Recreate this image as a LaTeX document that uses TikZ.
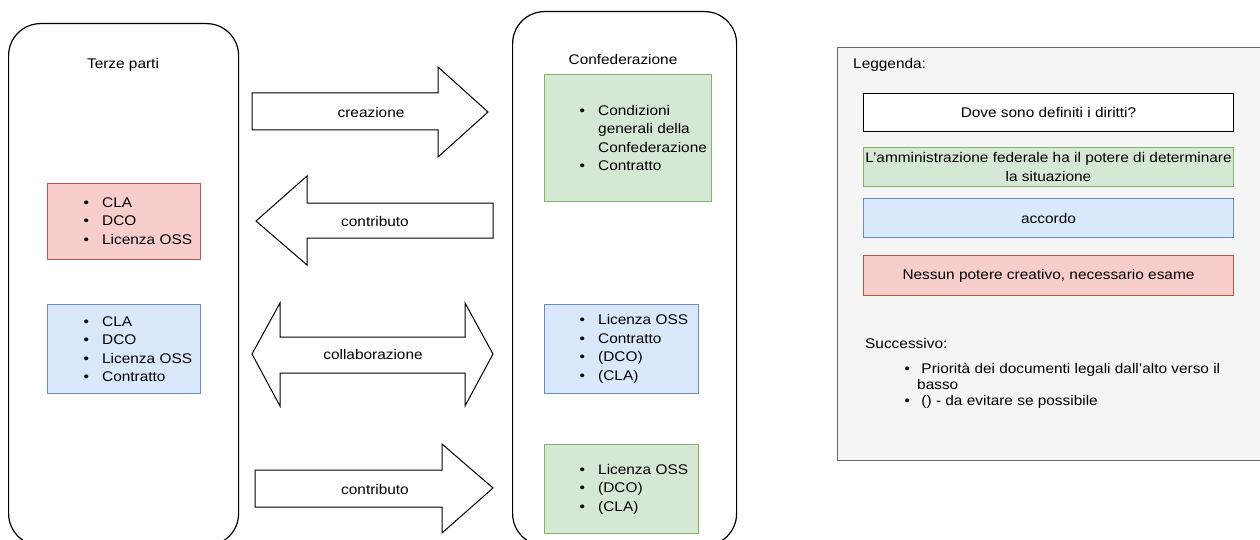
\documentclass[tikz,border=0pt]{standalone}
\usepackage{fontspec}
\setmainfont{Liberation Sans}[FakeStretch=1.1]
\usepackage{tikz}

\definecolor{verdeF}{HTML}{D5E8D4}
\definecolor{verdeB}{HTML}{82B366}
\definecolor{bluF}{HTML}{DAE8FC}
\definecolor{bluB}{HTML}{6C8EBF}
\definecolor{rossoF}{HTML}{F8CECC}
\definecolor{rossoB}{HTML}{B85450}
\definecolor{grigioF}{HTML}{F5F5F5}
\definecolor{grigioB}{HTML}{666666}

\newcommand{\voce}[1][16pt]{\makebox[0pt]{\textbullet}\hspace{#1}}
\newcommand{\segue}[1][16pt]{\hspace*{#1}}

\tikzset{
	gruppo/.style={draw=black, line width=1.2pt, rounded corners=32pt, anchor=north west},
	riquadro/.style={line width=1pt, anchor=north west, inner sep=0pt},
	verde/.style={riquadro, draw=verdeB, fill=verdeF},
	blu/.style={riquadro, draw=bluB, fill=bluF},
	rosso/.style={riquadro, draw=rossoB, fill=rossoF},
	bianco/.style={riquadro, draw=black, fill=white},
	lista/.style={align=left, anchor=west, inner sep=0pt},
	freccia/.style={draw=black, line width=1pt, fill=white, line join=miter}
}

\begin{document}
\begin{tikzpicture}[x=1pt, y=-1pt, font=\fontsize{14}{18.5}\selectfont]
\useasboundingbox (0,0) rectangle (1260,540);
\clip (0,0) rectangle (1260,540);

% terze parti
\node[gruppo, minimum width=230pt, minimum height=522pt] (terze) at (8,23) {};
\node (terzeTit) at (123,65) {Terze parti};
\node[rosso, minimum width=153pt, minimum height=76pt] (terzeR) at (47,183) {};
\node[lista] (terzeRL) at (86,221) {\voce CLA\\ \voce DCO\\ \voce Licenza OSS};
\node[blu, minimum width=153pt, minimum height=89pt] (terzeB) at (47,304) {};
\node[lista] (terzeBL) at (86,349) {\voce CLA\\ \voce DCO\\ \voce Licenza OSS\\ \voce Contratto};

% confederazione
\node[gruppo, minimum width=224pt, minimum height=534pt] (conf) at (512,11) {};
\node (confTit) at (623,59) {Confederazione};
\node[verde, minimum width=167pt, minimum height=127pt] (confV) at (544,74) {};
\node[lista] (confVL) at (582,138) {\voce Condizioni\\ \segue generali della\\ \segue Confederazione\\ \voce Contratto};
\node[blu, minimum width=154pt, minimum height=89pt] (confB) at (544,304) {};
\node[lista] (confBL) at (582,349) {\voce Licenza OSS\\ \voce Contratto\\ \voce (DCO)\\ \voce (CLA)};
\node[verde, minimum width=154pt, minimum height=89pt] (confV2) at (544,444) {};
\node[lista] (confV2L) at (582,489) {\voce Licenza OSS\\ \voce (DCO)\\ \voce (CLA)};

% frecce
\draw[freccia] (252,93) -- (438,93) -- (438,67) -- (488,112) -- (438,157) -- (438,130) -- (252,130) -- cycle;
\node (creazione) at (371,112) {creazione};
\draw[freccia] (493,203) -- (307,203) -- (307,176) -- (256,221) -- (307,265) -- (307,238) -- (493,238) -- cycle;
\node (contributo) at (375,221) {contributo};
\draw[freccia] (280,337) -- (465,337) -- (465,303) -- (493,354) -- (465,406) -- (465,373) -- (280,373) -- (280,406) -- (252,354) -- (280,303) -- cycle;
\node (collab) at (373,354) {collaborazione};
\draw[freccia] (255,470) -- (442,470) -- (442,444) -- (493,488) -- (442,533) -- (442,507) -- (255,507) -- cycle;
\node (contributo2) at (375,489) {contributo};

% leggenda
\node[riquadro, draw=grigioB, fill=grigioF, minimum width=430pt, minimum height=413pt] (leg) at (837,47) {};
\node[lista] (legTit) at (853,65) {Leggenda:};
\node[bianco, minimum width=370pt, minimum height=38pt] (legW) at (863,93) {};
\node (legWT) at (legW.center) {Dove sono definiti i diritti?};
\node[verde, minimum width=370pt, minimum height=39pt] (legV) at (863,147) {};
\node[align=center, inner sep=0pt] (legVT) at (legV.center) {L’amministrazione federale ha il potere di determinare\\la situazione};
\node[blu, minimum width=370pt, minimum height=39pt] (legB) at (863,198) {};
\node (legBT) at (legB.center) {accordo};
\node[rosso, minimum width=370pt, minimum height=40pt] (legR) at (863,255) {};
\node (legRT) at (legR.center) {Nessun potere creativo, necessario esame};
\node[lista] (succ) at (865,343) {Successivo:};
\node[lista, font=\fontsize{14}{16}\selectfont] (note) at (907,386) {\voce[10pt] Priorità dei documenti legali dall’alto verso il\\ \segue[10pt]basso\\ \voce[10pt] () - da evitare se possibile};
\end{tikzpicture}
\end{document}
